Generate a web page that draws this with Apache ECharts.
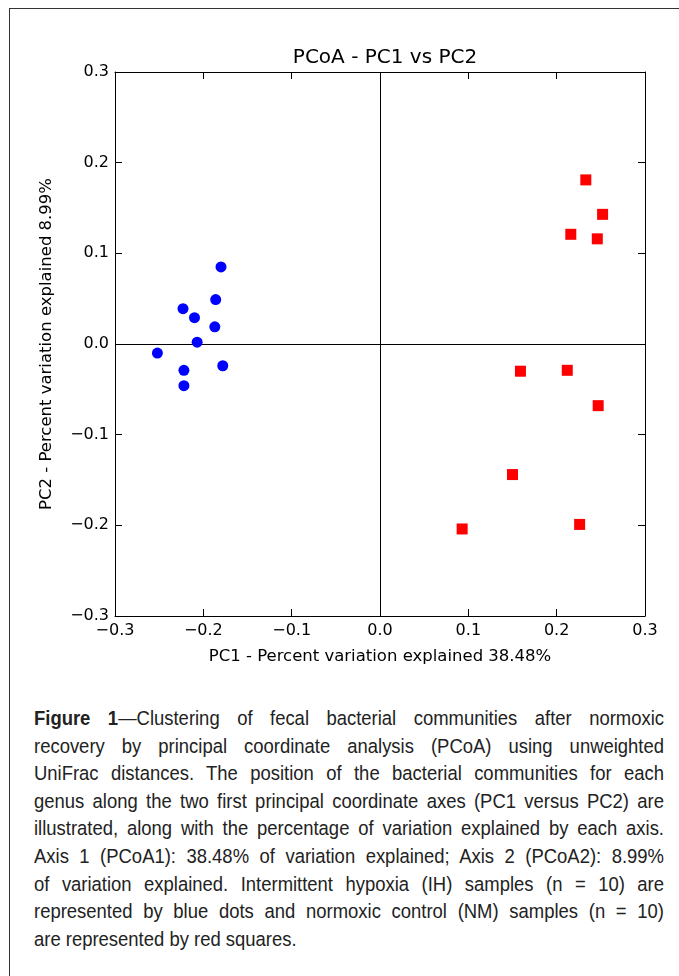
<!DOCTYPE html>
<html>
<head>
<meta charset="utf-8">
<script src="https://cdn.jsdelivr.net/npm/echarts@6/dist/echarts.min.js"></script>
<style>
html,body{margin:0;padding:0;background:#fff;width:679px;height:976px;overflow:hidden;position:relative;}
#frame{position:absolute;left:9px;top:8px;width:700px;height:1000px;border-top:1.5px solid #333;border-left:1.5px solid #333;}
#chart{position:absolute;left:0;top:0;width:679px;height:680px;}
#cap{position:absolute;left:34px;top:704px;width:700px;transform:scaleX(0.9);transform-origin:0 0;font-family:"Liberation Sans",Arial,sans-serif;font-size:20.5px;line-height:27.6px;color:#222;}
#cap div{white-space:nowrap;text-align:justify;text-align-last:justify;}
#cap div.last{text-align:left;text-align-last:left;}
#cap b{font-weight:bold;}
</style>
</head>
<body>
<div id="frame"></div>
<div id="chart"></div>
<div id="cap">
<div><b>Figure 1</b>—Clustering of fecal bacterial communities after normoxic</div>
<div>recovery by principal coordinate analysis (PCoA) using unweighted</div>
<div>UniFrac distances. The position of the bacterial communities for each</div>
<div>genus along the two first principal coordinate axes (PC1 versus PC2) are</div>
<div>illustrated, along with the percentage of variation explained by each axis.</div>
<div>Axis 1 (PCoA1): 38.48% of variation explained; Axis 2 (PCoA2): 8.99%</div>
<div>of variation explained. Intermittent hypoxia (IH) samples (n = 10) are</div>
<div>represented by blue dots and normoxic control (NM) samples (n = 10)</div>
<div class="last">are represented by red squares.</div>
</div>
<script>
// Data
var ihPC1 = [-0.180, -0.186, -0.223, -0.210, -0.187, -0.207, -0.252, -0.178, -0.222, -0.222];
var ihPC2 = [0.085, 0.049, 0.039, 0.029, 0.019, 0.002, -0.010, -0.024, -0.029, -0.046];
var nmPC1 = [0.233, 0.252, 0.216, 0.246, 0.159, 0.212, 0.247, 0.150, 0.093, 0.226];
var nmPC2 = [0.181, 0.143, 0.121, 0.116, -0.030, -0.029, -0.068, -0.144, -0.204, -0.199];
var axisMin = -0.3, axisMax = 0.3, axisStep = 0.1;

function zip(a, b) { return a.map(function (v, i) { return [v, b[i]]; }); }
function fmt(v) { var s = Math.abs(v).toFixed(1); return (v < -1e-9 ? '\u2212' : '') + s; }

var font = 'DejaVu Sans';
var chart = echarts.init(document.getElementById('chart'), null, {renderer: 'canvas'});
var tickCommon = {show: true, inside: true, length: 7, lineStyle: {color: '#000', width: 1}};
var lineCommon = {show: true, onZero: false, lineStyle: {color: '#000', width: 1}};
chart.setOption({
  animation: false,
  title: {
    text: 'PCoA - PC1 vs PC2',
    left: 380, top: 43, textAlign: 'center',
    textStyle: {fontFamily: font, fontSize: 20, fontWeight: 'normal', color: '#000'}
  },
  grid: {left: 115, top: 72, width: 530, height: 544},
  xAxis: [{
    type: 'value', min: axisMin, max: axisMax, interval: axisStep, position: 'bottom',
    axisLine: lineCommon, axisTick: tickCommon, splitLine: {show: false},
    axisLabel: {formatter: fmt, fontFamily: font, fontSize: 16, color: '#000', margin: 7},
    name: 'PC1 - Percent variation explained 38.48%', nameLocation: 'middle', nameGap: 32,
    nameTextStyle: {fontFamily: font, fontSize: 16.5, color: '#000'}
  }, {
    type: 'value', min: axisMin, max: axisMax, interval: axisStep, position: 'top',
    axisLine: lineCommon, axisTick: tickCommon, splitLine: {show: false}, axisLabel: {show: false}
  }],
  yAxis: [{
    type: 'value', min: axisMin, max: axisMax, interval: axisStep, position: 'left',
    axisLine: lineCommon, axisTick: tickCommon, splitLine: {show: false},
    axisLabel: {formatter: fmt, fontFamily: font, fontSize: 16, color: '#000', margin: 6},
    name: 'PC2 - Percent variation explained 8.99%', nameLocation: 'middle', nameGap: 60,
    nameTextStyle: {fontFamily: font, fontSize: 16.5, color: '#000'}
  }, {
    type: 'value', min: axisMin, max: axisMax, interval: axisStep, position: 'right',
    axisLine: lineCommon, axisTick: tickCommon, splitLine: {show: false}, axisLabel: {show: false}
  }],
  series: [{
    name: 'IH', type: 'scatter', data: zip(ihPC1, ihPC2), symbol: 'circle', symbolSize: 11,
    itemStyle: {color: '#0000ff', opacity: 1}, z: 5,
    markLine: {
      silent: true, symbol: 'none', label: {show: false},
      lineStyle: {color: '#000', width: 1, type: 'solid'},
      data: [{xAxis: 0}, {yAxis: 0}]
    }
  }, {
    name: 'NM', type: 'scatter', data: zip(nmPC1, nmPC2), symbol: 'rect', symbolSize: 11,
    itemStyle: {color: '#ff0000', opacity: 1}, z: 5
  }]
});
</script>
</body>
</html>
